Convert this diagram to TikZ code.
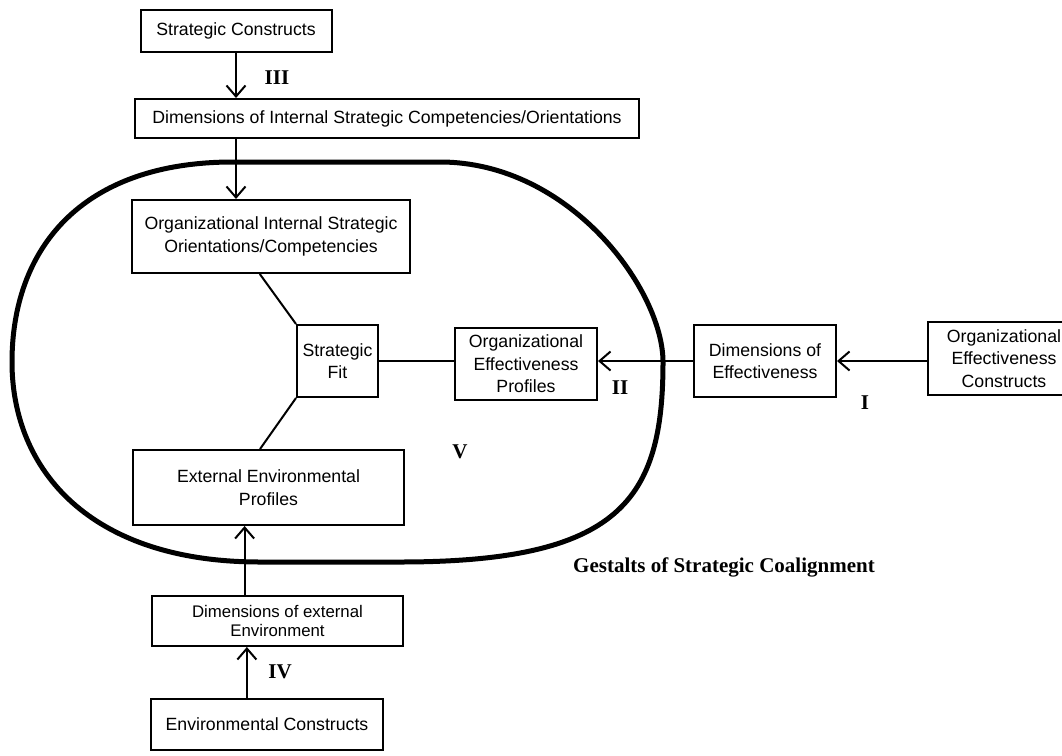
\documentclass[tikz,border=0pt]{standalone}
\usepackage{fontspec}
\setmainfont{Liberation Sans}
\newfontfamily\romanfont{Liberation Serif}
\usetikzlibrary{arrows.meta,calc}
\begin{document}
\begin{tikzpicture}[x=1pt,y=-1pt,
  box/.style={draw,line width=2pt,inner sep=0pt,align=center,
    font=\fontsize{17.7}{22.5}\selectfont},
  link/.style={line width=2pt},
  flow/.style={line width=2pt,-{Straight Barb[length=11pt,width=19pt,line width=2pt]}},
  numeral/.style={font=\romanfont\bfseries\fontsize{21}{24}\selectfont},
  gestalt/.style={line width=5pt}]
\useasboundingbox (0,0) rectangle (1062,755);

% the gestalt of strategic coalignment
\draw[gestalt] (233,162) -- (440,162)
  .. controls (570,162) and (663,290) .. (663,362)
  .. controls (663,500) and (620,562) .. (400,562)
  -- (260,562)
  .. controls (90,562) and (12,470) .. (12,362)
  .. controls (12,250) and (80,162) .. cycle;

% boxes
\node[box,minimum width=191pt,minimum height=42pt] (sc) at (236,31) {Strategic Constructs};
\node[box,minimum width=504pt,minimum height=39pt] (dis) at (387,118.5)
  {Dimensions of Internal Strategic Competencies/Orientations};
\node[box,minimum width=278pt,minimum height=73pt] (ois) at (271,236.5)
  {Organizational Internal Strategic\\Orientations/Competencies};
\node[box,minimum width=81pt,minimum height=72pt] (sf) at (337.5,361) {Strategic\\Fit};
\node[box,minimum width=142pt,minimum height=72pt] (oep) at (526,364)
  {Organizational\\Effectiveness\\Profiles};
\node[box,minimum width=142pt,minimum height=72pt] (doe) at (765,361)
  {Dimensions of\\Effectiveness};
\node[box,minimum width=152pt,minimum height=73pt] (oec) at (1004,358.5)
  {Organizational\\Effectiveness\\Constructs};
\node[box,minimum width=271pt,minimum height=75pt] (eep) at (268.5,487.5)
  {External Environmental\\Profiles};
\node[box,minimum width=251pt,minimum height=50pt,font=\fontsize{16.8}{19.5}\selectfont] (dee) at (277.5,621)
  {Dimensions of external\\Environment};
\node[box,minimum width=232pt,minimum height=51pt] (ec) at (267,724.5)
  {Environmental Constructs};

% connectors
\draw[flow] (sc.south) -- (sc.south |- dis.north);
\draw[flow] (dis.south -| sc.south) -- (sc.south |- ois.north);
\draw[link] ($(ois.south west)!0.46!(ois.south east)$) -- (sf.north west);
\draw[link] (sf.south west) -- ($(eep.north west)!0.469!(eep.north east)$);
\draw[link] (sf.east) -- (sf.east -| oep.west);
\draw[flow] (doe.west) -- (doe.west -| oep.east);
\draw[flow] (oec.west |- doe.west) -- (doe.east);
\coordinate (deetop) at ($(dee.north west)!0.37!(dee.north east)$);
\draw[flow] (deetop) -- (deetop |- eep.south);
\coordinate (ectop) at ($(ec.north west)!0.414!(ec.north east)$);
\draw[flow] (ectop) -- (ectop |- dee.south);

% labels
\node[numeral] (lIII) at (277,78) {III};
\node[numeral] (lII) at (620,388) {II};
\node[numeral] (lI) at (865,403) {I};
\node[numeral] (lIV) at (280,672) {IV};
\node[numeral] (lV) at (460,452) {V};
\node[numeral] (title) at (724,567) {Gestalts of Strategic Coalignment};
\end{tikzpicture}
\end{document}
